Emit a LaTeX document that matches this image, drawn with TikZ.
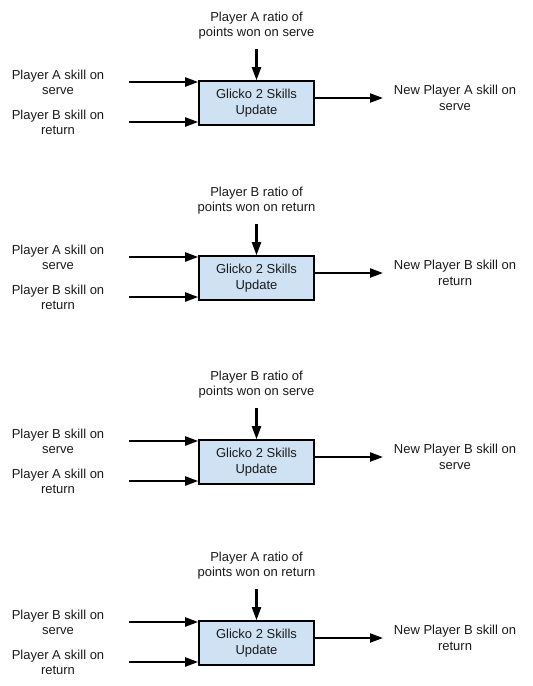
\documentclass[tikz,border=0pt]{standalone}
\usepackage{fontspec}
\setmainfont{Liberation Sans}
\usetikzlibrary{arrows.meta}
\definecolor{boxfill}{HTML}{CFE2F3}
\definecolor{txt}{HTML}{1A1A1A}
\tikzset{
  glbox/.style={draw=black, line width=1.6pt, fill=boxfill, minimum width=115pt, minimum height=44pt, inner sep=0pt, align=center, font=\fontsize{13}{15.5}\selectfont, text=txt},
  lbl/.style={align=center, inner sep=0pt, font=\fontsize{13}{15.5}\selectfont, text=txt},
  arr/.style={line width=2.2pt, -{Triangle[length=13pt,width=9pt]}, shorten >=0pt}
}
\begin{document}
\begin{tikzpicture}[x=1pt,y=-1pt]
\useasboundingbox (0,0) rectangle (533,686);
\foreach \n/\t/\tt/\la/\lb/\ro in {
  1/81/{Player A ratio of\\points won on serve}/{Player A skill on\\serve}/{Player B skill on\\return}/{New Player A skill on\\serve},
  2/256/{Player B ratio of\\points won on return}/{Player A skill on\\serve}/{Player B skill on\\return}/{New Player B skill on\\return},
  3/440/{Player B ratio of\\points won on serve}/{Player B skill on\\serve}/{Player A skill on\\return}/{New Player B skill on\\serve},
  4/621/{Player A ratio of\\points won on return}/{Player B skill on\\serve}/{Player A skill on\\return}/{New Player B skill on\\return}}
{
  \node[glbox] (box\n) at (256.5,\t+22) {Glicko 2 Skills\\Update};
  \node[lbl] (top\n) at (256.5,\t-55.5) {\tt};
  \node[lbl] (la\n) at (58,\t+1.5) {\la};
  \node[lbl] (lb\n) at (58,\t+41.5) {\lb};
  \node[lbl] (ro\n) at (455,\t+17) {\ro};
  \coordinate (tin\n) at (256.5,\t-32);
  \coordinate (ain\n) at (129,\t+1);
  \coordinate (bin\n) at (129,\t+41);
  \coordinate (out\n) at (383,\t+17);
  \draw[arr] (tin\n) -- (box\n.north);
  \draw[arr] (ain\n) -- (box\n.west |- ain\n);
  \draw[arr] (bin\n) -- (box\n.west |- bin\n);
  \draw[arr] (box\n.east |- out\n) -- (out\n);
}
\end{tikzpicture}
\end{document}
